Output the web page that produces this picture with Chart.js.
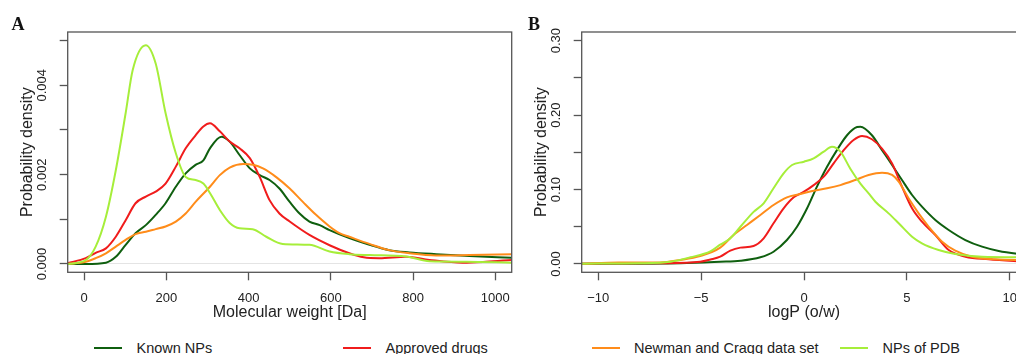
<!DOCTYPE html>
<html lang="en">
<head>
  <meta charset="UTF-8">
  <title>Probability density: molecular weight and logP</title>
  <script src="https://cdn.jsdelivr.net/npm/chart.js"></script>
  <style>
    html, body { margin: 0; padding: 0; background: #fff; overflow: hidden; }
    #wrap { position: relative; width: 1016px; height: 354px; overflow: hidden; font-family: "Liberation Sans", Arial, sans-serif; color: #222; }
    canvas { position: absolute; top: 0; }
    #cA { left: 0; }
    #cB { left: 520px; }
    .tag { position: absolute; top: 15px; font: bold 18px/18px "Liberation Serif", serif; color: #111; }
    .sw { position: absolute; top: 347px; width: 28px; height: 2px; }
    .lt { position: absolute; top: 339px; font-size: 14.5px; line-height: 18px; white-space: nowrap; }
  </style>
</head>
<body>
<div id="wrap">
  <canvas id="cA" width="520" height="330"></canvas>
  <canvas id="cB" width="540" height="330"></canvas>
  <div class="tag" style="left:11.5px">A</div>
  <div class="tag" style="left:528px">B</div>
  <div id="legend"></div>
</div>

<script>
  // series names and colours
  const seriesNames = ["Known NPs", "Approved drugs", "Newman and Cragg data set", "NPs of PDB"];
  const seriesColors = ["#0f5f0f", "#f01c1c", "#ff8c1a", "#a6ee3a"];

  // panel A: molecular weight [Da]
  const mwTicks = [0, 200, 400, 600, 800, 1000];
  const mwTickLabels = ["0", "200", "400", "600", "800", "1000"];
  const mwYTicks = [0, 0.001, 0.002, 0.003, 0.004, 0.005];
  const mwYLabels = ["0.000", "0.002", "0.004"];

  const mwKnownX = [-40, 4, 53, 77, 101, 125, 150, 174, 198, 223, 247, 271, 290, 306, 334, 354, 378, 403, 427, 451, 475, 500, 524, 548, 573, 597, 645, 694, 742, 791, 856, 937, 1040];
  const mwKnownY = [0, 0, 0.00003, 0.00016, 0.00043, 0.00069, 0.00087, 0.0011, 0.00136, 0.00173, 0.00203, 0.00222, 0.00232, 0.00259, 0.00285, 0.00274, 0.00244, 0.00214, 0.00199, 0.00188, 0.00169, 0.00139, 0.00113, 0.00095, 0.00087, 0.00076, 0.00058, 0.00043, 0.00031, 0.00026, 0.00022, 0.00018, 0.00014];

  const mwDrugX = [-40, 4, 28, 53, 77, 101, 125, 150, 174, 198, 223, 247, 271, 290, 306, 330, 354, 378, 403, 427, 451, 475, 500, 548, 597, 645, 680, 718, 783, 840, 921, 977, 1040];
  const mwDrugY = [0.00002, 0.00013, 0.00025, 0.00035, 0.00061, 0.00098, 0.00136, 0.00151, 0.00162, 0.0018, 0.00218, 0.00259, 0.00288, 0.00308, 0.00315, 0.00297, 0.00274, 0.00259, 0.00237, 0.00195, 0.00143, 0.00113, 0.00095, 0.00065, 0.00042, 0.00024, 0.00015, 0.00013, 0.00016, 0.00009, 0.00003, 0.00005, 0.00009];

  const mwNcX = [-40, 4, 28, 53, 77, 101, 125, 150, 174, 198, 223, 247, 271, 306, 330, 354, 387, 411, 435, 468, 500, 532, 564, 597, 621, 645, 694, 742, 791, 856, 937, 1040];
  const mwNcY = [0, 0.00005, 0.00013, 0.00024, 0.00039, 0.00054, 0.00067, 0.00072, 0.00078, 0.00084, 0.00095, 0.00113, 0.00139, 0.00173, 0.00199, 0.00216, 0.00224, 0.00222, 0.00214, 0.00194, 0.00169, 0.00139, 0.0011, 0.00084, 0.00069, 0.00061, 0.00045, 0.00031, 0.00024, 0.00019, 0.0002, 0.00022];

  const mwPdbX = [-40, 4, 28, 53, 77, 101, 118, 150, 174, 198, 223, 247, 271, 290, 306, 330, 354, 378, 410, 443, 483, 548, 597, 645, 694, 783, 840, 929, 1040];
  const mwPdbY = [0, 0.00009, 0.00039, 0.00106, 0.0021, 0.00338, 0.00434, 0.0049, 0.00449, 0.00338, 0.00248, 0.00195, 0.00188, 0.0018, 0.00159, 0.00121, 0.00092, 0.0008, 0.00078, 0.00061, 0.00045, 0.00043, 0.00028, 0.00022, 0.0002, 0.00017, 0.00006, 0.00005, 0.00003];

  // panel B: logP (o/w)
  const lpTicks = [-10, -5, 0, 5, 10];
  const lpTickLabels = ["\u221210", "\u22125", "0", "5", "10"];
  const lpYTicks = [0, 0.05, 0.1, 0.15, 0.2, 0.25, 0.3];
  const lpYLabels = ["0.00", "0.10", "0.20", "0.30"];

  const lpKnownX = [-10.8, -6, -4.07, -3.09, -2.12, -1.48, -0.83, -0.34, 0.15, 0.63, 1.12, 1.6, 2.09, 2.58, 2.74, 3.3, 3.79, 4.28, 4.76, 5.25, 5.73, 6.38, 7.03, 7.84, 8.65, 9.46, 10.8];
  const lpKnownY = [0.0002, 0.001, 0.003, 0.0044, 0.009, 0.0165, 0.0322, 0.05, 0.0748, 0.104, 0.1307, 0.153, 0.173, 0.184, 0.1844, 0.173, 0.153, 0.133, 0.1128, 0.0927, 0.077, 0.0591, 0.0457, 0.0322, 0.0233, 0.0175, 0.012];

  const lpDrugX = [-10.8, -7, -5.04, -4.55, -4.07, -3.58, -3.09, -2.45, -1.96, -1.48, -0.99, -0.5, 0, 0.47, 0.96, 1.44, 1.93, 2.41, 2.82, 3.3, 3.79, 4.28, 4.76, 5.25, 5.73, 6.38, 7.03, 7.84, 8.97, 10.8];
  const lpDrugY = [0.0005, 0.001, 0.003, 0.006, 0.0098, 0.018, 0.022, 0.0242, 0.0345, 0.0547, 0.0748, 0.0896, 0.0971, 0.106, 0.1173, 0.1353, 0.153, 0.1666, 0.172, 0.1676, 0.155, 0.135, 0.104, 0.0748, 0.0568, 0.039, 0.0188, 0.0098, 0.0063, 0.003];

  const lpNcX = [-10.8, -9, -7, -6, -5.04, -4.07, -3.42, -2.77, -2.12, -1.48, -0.83, -0.18, 0.47, 1.12, 1.77, 2.49, 3.14, 3.79, 4.28, 4.6, 5.08, 5.57, 6.06, 6.71, 7.35, 8.16, 9.3, 10.8];
  const lpNcY = [0.0005, 0.002, 0.002, 0.0054, 0.0107, 0.022, 0.039, 0.0524, 0.0658, 0.0793, 0.0896, 0.094, 0.0985, 0.1017, 0.106, 0.1128, 0.1196, 0.1227, 0.1196, 0.1106, 0.0883, 0.068, 0.05, 0.03, 0.018, 0.0098, 0.0063, 0.005];

  const lpPdbX = [-10.8, -8, -6.5, -5.52, -4.55, -4.07, -3.58, -3.09, -2.45, -1.96, -1.48, -0.99, -0.58, 0, 0.47, 0.96, 1.36, 1.77, 2.25, 2.74, 3.14, 3.47, 4.11, 4.6, 5.25, 5.73, 6.54, 7.35, 8.65, 10.8];
  const lpPdbY = [0.0005, 0.001, 0.003, 0.009, 0.017, 0.026, 0.0345, 0.05, 0.07, 0.0815, 0.1017, 0.1218, 0.133, 0.1374, 0.142, 0.151, 0.1576, 0.151, 0.128, 0.108, 0.095, 0.0837, 0.068, 0.0547, 0.0367, 0.0278, 0.0188, 0.0134, 0.0098, 0.009];

  // legend (html)
  const legendX = [94, 343, 591.5, 840];
  const legend = document.getElementById("legend");
  seriesNames.forEach((name, i) => {
    const sw = document.createElement("div");
    sw.className = "sw";
    sw.style.left = legendX[i] + "px";
    sw.style.background = seriesColors[i];
    legend.appendChild(sw);
    const t = document.createElement("div");
    t.className = "lt";
    t.style.left = (legendX[i] + 42.5) + "px";
    t.textContent = name;
    legend.appendChild(t);
  });

  // box round the plot + rotated y labels (R style)
  const boxAndLabels = {
    id: "boxAndLabels",
    afterDraw(chart, args, opts) {
      const { ctx, chartArea: a } = chart;
      const ys = chart.scales.y;
      ctx.save();
      ctx.strokeStyle = "#555";
      ctx.lineWidth = 1.3;
      ctx.strokeRect(a.left, a.top, a.right - a.left, a.bottom - a.top);
      ctx.fillStyle = "#222";
      ctx.font = '13px "Liberation Sans", Arial, sans-serif';
      ctx.textAlign = "center";
      ctx.textBaseline = "middle";
      opts.labels.forEach(t => {
        ctx.save();
        ctx.translate(a.left - 25, ys.getPixelForValue(parseFloat(t)));
        ctx.rotate(-Math.PI / 2);
        ctx.fillText(t, 0, 0);
        ctx.restore();
      });
      ctx.restore();
    }
  };

  function makeChart(id, p) {
    const H = 330;
    return new Chart(document.getElementById(id), {
      type: "line",
      data: {
        datasets: p.series.map((s, i) => ({
          label: seriesNames[i],
          data: s[0].map((x, j) => ({ x: x, y: s[1][j] })),
          borderColor: seriesColors[i],
          borderWidth: 2,
          pointRadius: 0,
          fill: false,
          cubicInterpolationMode: "monotone",
          order: 3 - i
        }))
      },
      options: {
        responsive: false,
        animation: false,
        devicePixelRatio: 1,
        layout: { padding: { top: 32, right: p.padRight, left: 0, bottom: 0 } },
        plugins: {
          legend: { display: false },
          tooltip: { enabled: false },
          boxAndLabels: { labels: p.yLabels }
        },
        scales: {
          x: {
            type: "linear",
            min: p.xMin, max: p.xMax,
            afterFit: s => { s.height = H - 272.3; },
            afterBuildTicks: s => { s.ticks = p.xTicks.map(v => ({ value: v })); },
            ticks: {
              font: { size: 13, family: "Liberation Sans" }, color: "#222", padding: 10,
              autoSkip: false, maxRotation: 0,
              callback: (v, i) => p.xTickLabels[i]
            },
            grid: { drawOnChartArea: false, tickLength: 8, tickColor: "#555", tickWidth: 1.3 },
            border: { display: false },
            title: { display: true, text: p.xTitle, color: "#222",
              font: { size: 16, family: "Liberation Sans" }, padding: { top: 0, bottom: 7.7 } }
          },
          y: {
            type: "linear",
            min: p.yMin, max: p.yMax,
            afterFit: s => { s.width = p.left; },
            afterBuildTicks: s => { s.ticks = p.yTicks.map(v => ({ value: v })); },
            ticks: { display: false },
            grid: {
              color: c => (c.tick && c.tick.value === 0) ? "#e4e4e4" : "rgba(0,0,0,0)",
              lineWidth: 1, tickLength: 8, tickColor: "#555", tickWidth: 1.3
            },
            border: { display: false },
            title: { display: true, text: "Probability density", color: "#222",
              font: { size: 16, family: "Liberation Sans" }, padding: { top: p.left - 49.6, bottom: 0 } }
          }
        }
      },
      plugins: [boxAndLabels]
    });
  }

  makeChart("cA", {
    series: [[mwKnownX, mwKnownY], [mwDrugX, mwDrugY], [mwNcX, mwNcY], [mwPdbX, mwPdbY]],
    xMin: -40, xMax: 1040, yMin: -0.000186, yMax: 0.005194,
    xTicks: mwTicks, xTickLabels: mwTickLabels, yTicks: mwYTicks, yLabels: mwYLabels,
    xTitle: "Molecular weight [Da]", left: 67.7, padRight: 7.7
  });

  makeChart("cB", {
    series: [[lpKnownX, lpKnownY], [lpDrugX, lpDrugY], [lpNcX, lpNcY], [lpPdbX, lpPdbY]],
    xMin: -10.8, xMax: 10.8, yMin: -0.01115, yMax: 0.31166,
    xTicks: lpTicks, xTickLabels: lpTickLabels, yTicks: lpYTicks, yLabels: lpYLabels,
    xTitle: "logP (o/w)", left: 61.7, padRight: 33.7
  });
</script>
</body>
</html>
